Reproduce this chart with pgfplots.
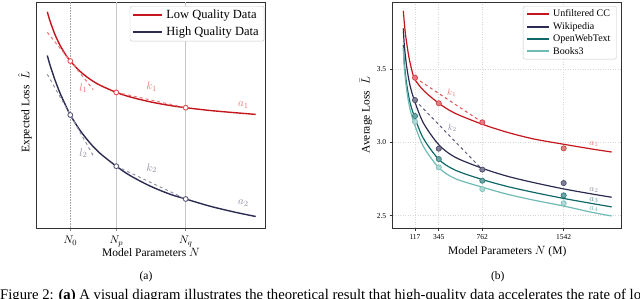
\documentclass[border=0pt]{standalone}
\usepackage{fontspec}
\setmainfont{Liberation Serif}
\usepackage{pgfplots}
\pgfplotsset{compat=1.18}
\definecolor{cred}{RGB}{196,22,28}
\definecolor{cnavy}{RGB}{44,44,82}
\definecolor{lred}{RGB}{232,120,120}
\definecolor{mred}{RGB}{226,80,84}
\definecolor{lgray}{RGB}{145,145,165}
\definecolor{mnavy}{RGB}{90,90,120}
\definecolor{cteal}{RGB}{16,104,104}
\definecolor{clteal}{RGB}{112,186,180}
\definecolor{axgray}{RGB}{50,50,50}
\newcommand{\fs}[1]{\fontsize{#1}{#1}\selectfont}
\begin{document}
\begin{tikzpicture}
\useasboundingbox (0pt,0pt) rectangle (640pt,299pt);
% ---------------- panel (a) ----------------
\begin{axis}[at={(36.5pt,71pt)}, anchor=south west, scale only axis,
  width=229pt, height=226pt,
  xmin=36.5, xmax=265.5, ymin=0, ymax=226,
  xtick={70.3,116.3,185.7}, xticklabels={$N_0$,$N_p$,$N_q$},
  ytick=\empty, xtick pos=bottom, tick align=outside,
  major tick length=3.5pt,
  tick style={black!45, line width=0.8pt},
  axis line style={axgray, line width=0.9pt},
  xticklabel style={font=\fs{11}, yshift=-1pt},
  legend style={at={(rel axis cs:0.995,0.982)}, anchor=north east,
    draw=black!22, rounded corners=2pt, font=\fs{12.5},
    inner xsep=2pt, inner ysep=2pt, row sep=2.5pt,
    nodes={inner xsep=3.5pt}},
  legend cell align=left,
  legend image code/.code={\draw[#1, line width=1.8pt] (0pt,0pt) -- (29pt,0pt);},
]
\addplot[black!35, densely dotted, line width=0.6pt, forget plot] coordinates {(70.3,0) (70.3,226)};
\addplot[black!22, line width=1.2pt, forget plot] coordinates {(116.3,0) (116.3,226)};
\addplot[black!22, line width=1.2pt, forget plot] coordinates {(185.7,0) (185.7,226)};
\addplot[cred, line width=1.4pt, smooth] coordinates {
(47.3,216.2)(50,207.0)(55,193.4)(60,182.8)(65,174.3)(70.3,167.0)(80,156.7)(90,148.8)(100,142.8)(116.3,135.6)(130,131.1)(150,126.2)(170,122.5)(185.7,120.3)(210,117.5)(235,115.3)(255.7,113.6)};
\addlegendentry{Low Quality Data}
\addplot[cnavy, line width=1.4pt, smooth] coordinates {
(47.3,172.5)(50,163)(55,148)(60,135)(65,124)(70.3,113.0)(80,97.7)(90,85.0)(100,74.7)(116.3,61.8)(130,52.5)(150,42.0)(170,33.8)(185.7,29.0)(210,21.8)(235,15.8)(255.7,11.5)};
\addlegendentry{High Quality Data}
\addplot[lred, dashed, line width=1pt, forget plot] coordinates {(47.3,195.7) (93.3,138.3)};
\addplot[lred, dashed, line width=1pt, forget plot] coordinates {(116.3,135.6) (185.7,120.3)};
\addplot[lgray, dashed, line width=1pt, forget plot] coordinates {(47.3,153.7) (93.3,72.3)};
\addplot[lgray, dashed, line width=1pt, forget plot] coordinates {(116.3,61.8) (185.7,29.0)};
\addplot[only marks, mark=*, mark size=2.4pt, mark options={fill=white, draw=mred, line width=0.9pt}, forget plot] coordinates {(70.3,167.0)(116.3,135.6)(185.7,120.3)};
\addplot[only marks, mark=*, mark size=2.4pt, mark options={fill=white, draw=mnavy, line width=0.9pt}, forget plot] coordinates {(70.3,113.0)(116.3,61.8)(185.7,29.0)};
\node[lred, font=\fs{11}] at (axis cs:83.3,139.7) {$l_1$};
\node[lred, font=\fs{11}] at (axis cs:151.7,141) {$k_1$};
\node[lgray, font=\fs{11}] at (axis cs:83.3,74.7) {$l_2$};
\node[lgray, font=\fs{11}] at (axis cs:151.7,59.7) {$k_2$};
\node[lred, font=\fs{11}] at (axis cs:243.3,123) {$a_1$};
\node[lgray, font=\fs{11}] at (axis cs:243.3,24.7) {$a_2$};
\end{axis}
% ---------------- panel (b) ----------------
\begin{axis}[at={(392.7pt,71pt)}, anchor=south west, scale only axis,
  width=229pt, height=226pt,
  xmin=-96.7, xmax=2098, ymin=2.416, ymax=3.96,
  xtick={117,345,762,1542}, xticklabels={117,345,762,1542},
  ytick={2.5,3.0,3.5}, yticklabels={2.5,3.0,3.5},
  xtick pos=bottom, ytick pos=left, tick align=outside,
  major tick length=3pt,
  tick style={axgray, line width=0.7pt},
  axis line style={axgray, line width=0.9pt},
  grid=major, grid style={dash pattern=on 1pt off 1.5pt, black!16, line width=0.6pt},
  ticklabel style={font=\fs{7.5}},
  legend style={at={(rel axis cs:0.978,0.982)}, anchor=north east,
    draw=black!22, rounded corners=2pt, font=\fs{10},
    inner xsep=3pt, inner ysep=1.5pt, row sep=0pt,
    nodes={inner xsep=3pt}},
  legend cell align=left,
  legend image code/.code={\draw[#1, line width=2pt] (0pt,0pt) -- (22pt,0pt);},
]
\addplot[cred, line width=1.2pt, smooth] coordinates {
(5,3.90)(24,3.75)(57,3.59)(88,3.49)(117,3.43)(200,3.355)(345,3.268)(500,3.20)(762,3.125)(1000,3.07)(1250,3.025)(1542,2.988)(1800,2.957)(2002,2.935)};
\addlegendentry{Unfiltered CC}
\addplot[cnavy, line width=1.2pt, smooth] coordinates {
(5,3.78)(15,3.66)(37,3.52)(69,3.39)(117,3.275)(200,3.13)(345,2.985)(500,2.90)(762,2.824)(1000,2.77)(1250,2.727)(1542,2.683)(1800,2.65)(2002,2.626)};
\addlegendentry{Wikipedia}
\addplot[cteal, line width=1.2pt, smooth] coordinates {
(5,3.666)(15,3.54)(37,3.40)(69,3.275)(117,3.165)(200,3.025)(345,2.885)(500,2.812)(762,2.747)(1000,2.70)(1250,2.66)(1542,2.618)(1800,2.585)(2002,2.56)};
\addlegendentry{OpenWebText}
\addplot[clteal, line width=1.2pt, smooth] coordinates {
(5,3.646)(15,3.51)(37,3.36)(69,3.23)(117,3.115)(200,2.97)(345,2.828)(500,2.754)(762,2.695)(1000,2.647)(1250,2.607)(1542,2.566)(1800,2.525)(2002,2.498)};
\addlegendentry{Books3}
\addplot[mred, dashed, line width=1pt, forget plot] coordinates {(117,3.443) (762,3.138)};
\addplot[mnavy, dashed, line width=1pt, forget plot] coordinates {(117,3.29) (762,2.815)};
\addplot[only marks, mark=*, mark size=2.6pt, mark options={fill=cred!55, draw=cred!80, line width=0.7pt}, forget plot] coordinates {(117,3.443)(345,3.268)(762,3.138)(1542,2.96)};
\addplot[only marks, mark=*, mark size=2.6pt, mark options={fill=cnavy!60, draw=cnavy!85, line width=0.7pt}, forget plot] coordinates {(117,3.29)(345,2.958)(762,2.815)(1542,2.723)};
\addplot[only marks, mark=*, mark size=2.6pt, mark options={fill=cteal!60, draw=cteal!85, line width=0.7pt}, forget plot] coordinates {(117,3.181)(345,2.887)(762,2.739)(1542,2.639)};
\addplot[only marks, mark=*, mark size=2.6pt, mark options={fill=clteal!55, draw=clteal!90, line width=0.7pt}, forget plot] coordinates {(117,3.142)(345,2.83)(762,2.682)(1542,2.585)};
\node[lred, font=\fs{9}] at (axis cs:469,3.336) {$k_1$};
\node[lgray, font=\fs{9}] at (axis cs:474,3.097) {$k_2$};
\node[lred, font=\fs{9}] at (axis cs:1832,2.988) {$a_1$};
\node[lgray, font=\fs{9}] at (axis cs:1832,2.676) {$a_2$};
\node[cteal!70, font=\fs{9}] at (axis cs:1832,2.607) {$a_3$};
\node[clteal, font=\fs{9}] at (axis cs:1832,2.546) {$a_4$};
\end{axis}
% ---------------- labels ----------------
\node[rotate=90, font=\fs{11.5}] at (25pt,187pt) {Expected Loss\ \ $\hat{L}$};
\node[rotate=90, font=\fs{11.5}] at (366pt,184pt) {Average Loss\ \ $\bar{L}$};
\node[font=\fs{11.5}] at (151pt,46.5pt) {Model Parameters $N$};
\node[font=\fs{11.5}] at (507.2pt,47.3pt) {Model Parameters $N$ (M)};
\node[font=\fs{11.5}] at (146pt,22.3pt) {(a)};
\node[font=\fs{11.5}] at (497.7pt,22.3pt) {(b)};
\node[anchor=base west, inner sep=0pt, font=\fs{14.7}] at (0pt,-0.3pt) {Figure 2: \textbf{(a)} A visual diagram illustrates the theoretical result that high-quality data accelerates the rate of loss reduction};
\end{tikzpicture}
\end{document}
